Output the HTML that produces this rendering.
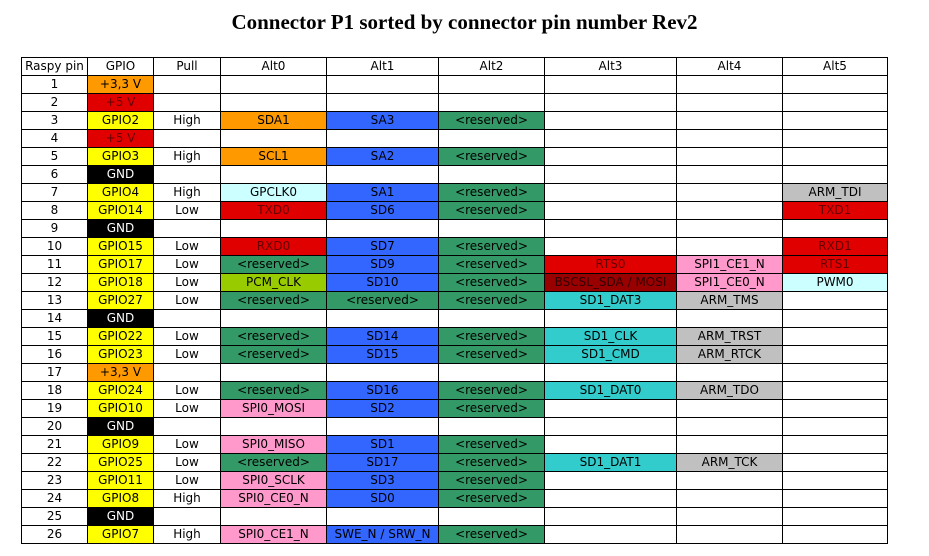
<!DOCTYPE html>
<html><head><meta charset="utf-8"><style>
body{margin:0;width:929px;height:556px;background:#fff;position:relative;overflow:hidden}
h1{position:absolute;left:0;width:929px;top:10px;margin:0;text-align:center;font:bold 21px "Liberation Serif",serif;color:#000}
table{position:absolute;left:21px;top:57px;border-collapse:collapse;table-layout:fixed;font:12px "DejaVu Sans","Liberation Sans",sans-serif}
td{border:1px solid #000;height:17px;padding:0;text-align:center;white-space:nowrap;overflow:hidden;line-height:17px;font-size:12px}
.o{background:#ff9900}.r{background:#e00000;color:#600}.y{background:#ffff00}.k{background:#000;color:#fff}
.b{background:#3366ff}.g{background:#339966}.c{background:#ccffff}.p{background:#ff99cc}.t{background:#33cccc}
.s{background:#c0c0c0}.l{background:#99cc00}.d{background:#990000;color:#300}
</style></head><body>
<h1>Connector P1 sorted by connector pin number Rev2</h1>
<table>
<colgroup><col style="width:66px"><col style="width:66px"><col style="width:67px"><col style="width:106px"><col style="width:112px"><col style="width:106px"><col style="width:132px"><col style="width:106px"><col style="width:105px"></colgroup>
<tr><td>Raspy pin</td><td>GPIO</td><td>Pull</td><td>Alt0</td><td>Alt1</td><td>Alt2</td><td>Alt3</td><td>Alt4</td><td>Alt5</td></tr>
<tr><td>1</td><td class="o">+3,3 V</td><td></td><td></td><td></td><td></td><td></td><td></td><td></td></tr>
<tr><td>2</td><td class="r">+5 V</td><td></td><td></td><td></td><td></td><td></td><td></td><td></td></tr>
<tr><td>3</td><td class="y">GPIO2</td><td>High</td><td class="o">SDA1</td><td class="b">SA3</td><td class="g">&lt;reserved&gt;</td><td></td><td></td><td></td></tr>
<tr><td>4</td><td class="r">+5 V</td><td></td><td></td><td></td><td></td><td></td><td></td><td></td></tr>
<tr><td>5</td><td class="y">GPIO3</td><td>High</td><td class="o">SCL1</td><td class="b">SA2</td><td class="g">&lt;reserved&gt;</td><td></td><td></td><td></td></tr>
<tr><td>6</td><td class="k">GND</td><td></td><td></td><td></td><td></td><td></td><td></td><td></td></tr>
<tr><td>7</td><td class="y">GPIO4</td><td>High</td><td class="c">GPCLK0</td><td class="b">SA1</td><td class="g">&lt;reserved&gt;</td><td></td><td></td><td class="s">ARM_TDI</td></tr>
<tr><td>8</td><td class="y">GPIO14</td><td>Low</td><td class="r">TXD0</td><td class="b">SD6</td><td class="g">&lt;reserved&gt;</td><td></td><td></td><td class="r">TXD1</td></tr>
<tr><td>9</td><td class="k">GND</td><td></td><td></td><td></td><td></td><td></td><td></td><td></td></tr>
<tr><td>10</td><td class="y">GPIO15</td><td>Low</td><td class="r">RXD0</td><td class="b">SD7</td><td class="g">&lt;reserved&gt;</td><td></td><td></td><td class="r">RXD1</td></tr>
<tr><td>11</td><td class="y">GPIO17</td><td>Low</td><td class="g">&lt;reserved&gt;</td><td class="b">SD9</td><td class="g">&lt;reserved&gt;</td><td class="r">RTS0</td><td class="p">SPI1_CE1_N</td><td class="r">RTS1</td></tr>
<tr><td>12</td><td class="y">GPIO18</td><td>Low</td><td class="l">PCM_CLK</td><td class="b">SD10</td><td class="g">&lt;reserved&gt;</td><td class="d">BSCSL_SDA / MOSI</td><td class="p">SPI1_CE0_N</td><td class="c">PWM0</td></tr>
<tr><td>13</td><td class="y">GPIO27</td><td>Low</td><td class="g">&lt;reserved&gt;</td><td class="g">&lt;reserved&gt;</td><td class="g">&lt;reserved&gt;</td><td class="t">SD1_DAT3</td><td class="s">ARM_TMS</td><td></td></tr>
<tr><td>14</td><td class="k">GND</td><td></td><td></td><td></td><td></td><td></td><td></td><td></td></tr>
<tr><td>15</td><td class="y">GPIO22</td><td>Low</td><td class="g">&lt;reserved&gt;</td><td class="b">SD14</td><td class="g">&lt;reserved&gt;</td><td class="t">SD1_CLK</td><td class="s">ARM_TRST</td><td></td></tr>
<tr><td>16</td><td class="y">GPIO23</td><td>Low</td><td class="g">&lt;reserved&gt;</td><td class="b">SD15</td><td class="g">&lt;reserved&gt;</td><td class="t">SD1_CMD</td><td class="s">ARM_RTCK</td><td></td></tr>
<tr><td>17</td><td class="o">+3,3 V</td><td></td><td></td><td></td><td></td><td></td><td></td><td></td></tr>
<tr><td>18</td><td class="y">GPIO24</td><td>Low</td><td class="g">&lt;reserved&gt;</td><td class="b">SD16</td><td class="g">&lt;reserved&gt;</td><td class="t">SD1_DAT0</td><td class="s">ARM_TDO</td><td></td></tr>
<tr><td>19</td><td class="y">GPIO10</td><td>Low</td><td class="p">SPI0_MOSI</td><td class="b">SD2</td><td class="g">&lt;reserved&gt;</td><td></td><td></td><td></td></tr>
<tr><td>20</td><td class="k">GND</td><td></td><td></td><td></td><td></td><td></td><td></td><td></td></tr>
<tr><td>21</td><td class="y">GPIO9</td><td>Low</td><td class="p">SPI0_MISO</td><td class="b">SD1</td><td class="g">&lt;reserved&gt;</td><td></td><td></td><td></td></tr>
<tr><td>22</td><td class="y">GPIO25</td><td>Low</td><td class="g">&lt;reserved&gt;</td><td class="b">SD17</td><td class="g">&lt;reserved&gt;</td><td class="t">SD1_DAT1</td><td class="s">ARM_TCK</td><td></td></tr>
<tr><td>23</td><td class="y">GPIO11</td><td>Low</td><td class="p">SPI0_SCLK</td><td class="b">SD3</td><td class="g">&lt;reserved&gt;</td><td></td><td></td><td></td></tr>
<tr><td>24</td><td class="y">GPIO8</td><td>High</td><td class="p">SPI0_CE0_N</td><td class="b">SD0</td><td class="g">&lt;reserved&gt;</td><td></td><td></td><td></td></tr>
<tr><td>25</td><td class="k">GND</td><td></td><td></td><td></td><td></td><td></td><td></td><td></td></tr>
<tr><td>26</td><td class="y">GPIO7</td><td>High</td><td class="p">SPI0_CE1_N</td><td class="b">SWE_N / SRW_N</td><td class="g">&lt;reserved&gt;</td><td></td><td></td><td></td></tr>
</table>
</body></html>
